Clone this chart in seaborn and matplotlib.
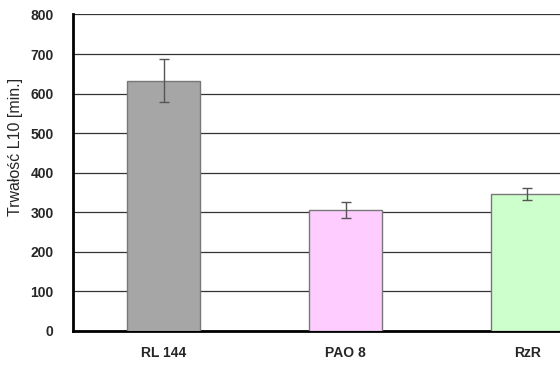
import pandas as pd
import numpy as np
import matplotlib
matplotlib.use('Agg')
import matplotlib.pyplot as plt
import seaborn as sns

# values
categories = ['RL 144', 'PAO 8', 'RzR']
means = [633, 306, 346]
errors = [55, 20, 15]
colors = ['#A6A6A6', '#FFCCFF', '#CCFFCC']

df = pd.DataFrame({'sample': categories, 'L10': means, 'err': errors})

sns.set_style('white')
plt.rcParams['font.family'] = ['Liberation Sans', 'DejaVu Sans']

fig = plt.figure(figsize=(5.6, 3.65), dpi=100)
# axes runs past the right edge, like the cropped original
ax = fig.add_axes([73 / 560, 34 / 365, 545 / 560, 316.5 / 365])

sns.barplot(data=df, x='sample', y='L10', hue='sample', palette=colors,
            saturation=1, width=0.4, edgecolor='#777777', linewidth=1.0,
            legend=False, errorbar=None, ax=ax, zorder=3)
ax.errorbar(df['sample'], df['L10'], yerr=df['err'], fmt='none',
            ecolor='#555555', elinewidth=1.0, capsize=3.3, capthick=1.0, zorder=4)

ax.set_xlim(-0.5, 2.5)
ax.set_ylim(0, 800)
ax.set_yticks(np.arange(0, 801, 100))
ax.yaxis.grid(True, color='#333333', linewidth=0.9, zorder=0)
ax.set_axisbelow(True)

ax.set_xticks([-0.5, 0.5, 1.5, 2.5], minor=True)
ax.tick_params(axis='x', which='major', length=0, pad=11)
ax.tick_params(axis='x', which='minor', length=4, width=1.5, color='black', direction='out')
ax.tick_params(axis='y', length=4, width=1.5, color='black', direction='out', pad=10)
for lbl in ax.get_xticklabels() + ax.get_yticklabels():
    lbl.set_fontsize(10)
    lbl.set_fontweight('bold')

ax.set_xlabel('')
ax.set_ylabel('Trwałość L10 [min.]', fontsize=11.5)
ax.yaxis.set_label_coords(-0.091, 0.583)

for s in ['top', 'right']:
    ax.spines[s].set_visible(False)
for s in ['left', 'bottom']:
    ax.spines[s].set_color('black')
    ax.spines[s].set_linewidth(2)

fig.savefig('out.png', dpi=100, facecolor='white')
